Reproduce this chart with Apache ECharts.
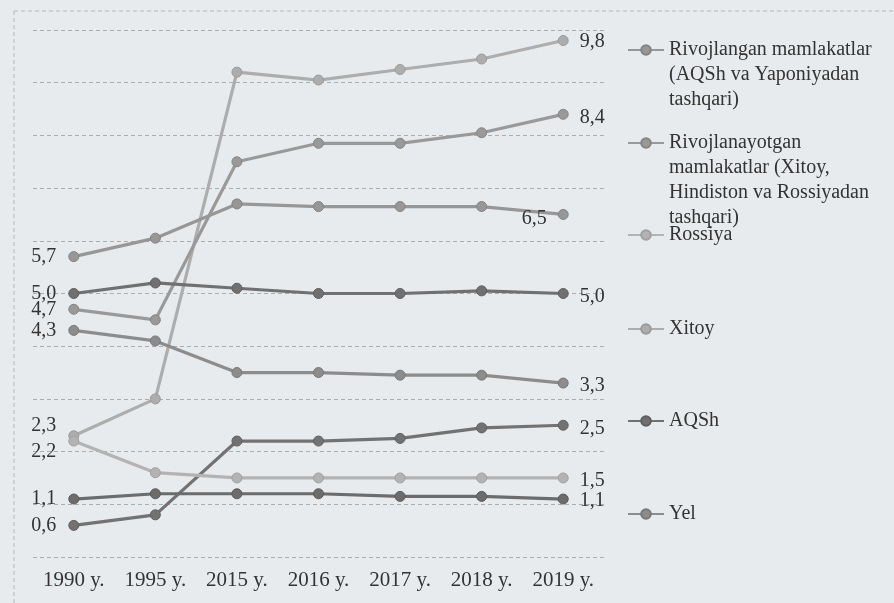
<!DOCTYPE html>
<html>
<head>
<meta charset="utf-8">
<script src="https://cdn.jsdelivr.net/npm/echarts@6/dist/echarts.min.js"></script>
<style>
html,body{margin:0;padding:0;background:#e7ebee;}
#chart{width:894px;height:603px;}
</style>
</head>
<body>
<div id="chart"></div>
<script>
// ---- data ----
const categories = ['1990 y.', '1995 y.', '2015 y.', '2016 y.', '2017 y.', '2018 y.', '2019 y.'];
const xitoy           = [2.3, 3.0, 9.2, 9.05, 9.25, 9.45, 9.8];
const rivojlanayotgan = [4.7, 4.5, 7.5, 7.85, 7.85, 8.05, 8.4];
const rivojlangan     = [5.7, 6.05, 6.7, 6.65, 6.65, 6.65, 6.5];
const aqsh            = [5.0, 5.2, 5.1, 5.0, 5.0, 5.05, 5.0];
const yei             = [4.3, 4.1, 3.5, 3.5, 3.45, 3.45, 3.3];
const hindiston       = [0.6, 0.8, 2.2, 2.2, 2.25, 2.45, 2.5];
const rossiya         = [2.2, 1.6, 1.5, 1.5, 1.5, 1.5, 1.5];
const yaponiya        = [1.1, 1.2, 1.2, 1.2, 1.15, 1.15, 1.1];

const nameRivojlangan = 'Rivojlangan mamlakatlar\n(AQSh va Yaponiyadan\ntashqari)';
const nameRivojlanayotgan = 'Rivojlanayotgan\nmamlakatlar (Xitoy,\nHindiston va Rossiyadan\ntashqari)';
const legendNames = [nameRivojlangan, nameRivojlanayotgan, 'Rossiya', 'Xitoy', 'AQSh', 'Yel'];

// ---- styles ----
const FONT = '"Liberation Serif", "Times New Roman", serif';
const TEXT = '#333333';
const seriesDefs = [
  {name: 'Xitoy', data: xitoy, color: '#adadad', border: '#9a9a9a', first: [0, -10], lastPos: 'right', last: [0, 1]},
  {name: nameRivojlanayotgan, data: rivojlanayotgan, color: '#999999', border: '#858585', first: [0, 0], lastPos: 'right', last: [0, 3]},
  {name: nameRivojlangan, data: rivojlangan, color: '#979797', border: '#838383', first: [0, 0], lastPos: 'left', last: [0, 4]},
  {name: 'AQSh', data: aqsh, color: '#707070', border: '#5e5e5e', first: [0, 0], lastPos: 'right', last: [0, 3]},
  {name: 'Yel', data: yei, color: '#8c8c8c', border: '#787878', first: [0, 0], lastPos: 'right', last: [0, 3]},
  {name: 'Hindiston', data: hindiston, color: '#727272', border: '#5f5f5f', first: [0, 0], lastPos: 'right', last: [0, 3]},
  {name: 'Rossiya', data: rossiya, color: '#b3b3b3', border: '#a0a0a0', first: [0, 11], lastPos: 'right', last: [0, 3]},
  {name: 'Yaponiya', data: yaponiya, color: '#6c6c6c', border: '#5a5a5a', first: [0, 0], lastPos: 'right', last: [0, 2]}
];
const legendIconY = [50, 143, 235, 329, 421, 514];
const LH = 25;

const fmt = p => Number(p.value).toFixed(1).replace('.', ',');

const series = seriesDefs.map(d => ({
  type: 'line',
  name: d.name,
  symbol: 'circle',
  symbolSize: 10,
  lineStyle: {width: 3.2, color: d.color},
  itemStyle: {color: d.color, borderColor: d.border, borderWidth: 1},
  label: {show: false, fontFamily: FONT, fontSize: 20, color: TEXT, formatter: fmt},
  emphasis: {disabled: true},
  data: d.data.map((v, i) => {
    if (i === 0) return {value: v, label: {show: true, position: 'left', distance: 12, offset: d.first}};
    if (i === d.data.length - 1) return {value: v, label: {show: true, position: d.lastPos, distance: 11, offset: d.last}};
    return v;
  })
}));

const legends = legendNames.map((n, i) => {
  const lines = n.split('\n').length;
  const block = (2 * lines - 1) * LH;
  return {
    data: [n],
    orient: 'vertical',
    left: 627,
    top: legendIconY[i] - block / 2,
    padding: 0,
    itemWidth: 36,
    itemHeight: 12,
    itemGap: 5,
    selectedMode: false,
    formatter: name => '\n'.repeat(name.split('\n').length - 1) + name,
    textStyle: {fontFamily: FONT, fontSize: 20, lineHeight: LH, color: TEXT}
  };
});

const chart = echarts.init(document.getElementById('chart'), null, {renderer: 'canvas'});
chart.setOption({
  animation: false,
  backgroundColor: '#e7ebee',
  grid: {left: 33, right: 290, top: 30, bottom: 46},
  xAxis: {
    type: 'category',
    data: categories,
    boundaryGap: true,
    axisLine: {show: false},
    axisTick: {show: false},
    axisLabel: {fontFamily: FONT, fontSize: 21, color: TEXT, margin: 13}
  },
  yAxis: {
    type: 'value',
    min: 0,
    max: 10,
    interval: 1,
    axisLabel: {show: false},
    axisLine: {show: false},
    axisTick: {show: false},
    splitLine: {lineStyle: {color: '#a9aeb2', width: 1, type: [4, 3]}}
  },
  legend: legends,
  graphic: [
    {type: 'line', shape: {x1: 14, y1: 11, x2: 894, y2: 11}, style: {stroke: '#b4b8bb', lineWidth: 1, lineDash: [4, 3]}, silent: true},
    {type: 'line', shape: {x1: 14, y1: 11, x2: 14, y2: 603}, style: {stroke: '#b4b8bb', lineWidth: 1, lineDash: [4, 3]}, silent: true}
  ],
  series: series
});
</script>
</body>
</html>
